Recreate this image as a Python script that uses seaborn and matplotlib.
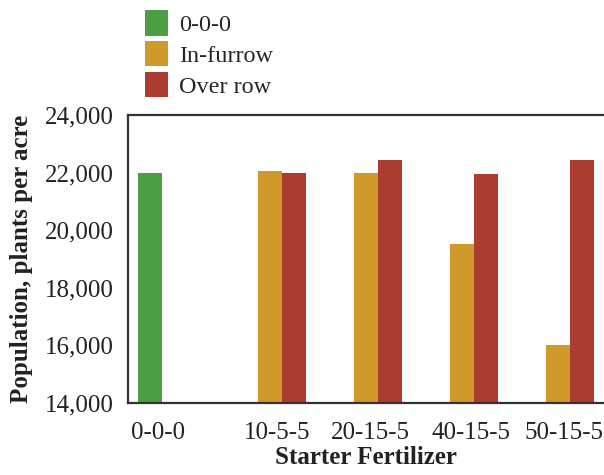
import numpy as np
import pandas as pd
import seaborn as sns
import matplotlib
matplotlib.use("Agg")
import matplotlib.pyplot as plt
from matplotlib.patches import Patch

# Daten
fertilizers = ["0-0-0", "10-5-5", "20-15-5", "40-15-5", "50-15-5"]
treatments = ["0-0-0", "In-furrow", "Over row"]
check_pop = [22000]
infurrow_pop = [22050, 22000, 19500, 16000]
overrow_pop = [22000, 22450, 21950, 22450]
colors = ["#4C9E45", "#CF9A2B", "#AA3C32"]

df = pd.DataFrame({
    "fert": [fertilizers[0]] + fertilizers[1:] + fertilizers[1:],
    "treat": ["0-0-0"] * len(check_pop) + ["In-furrow"] * 4 + ["Over row"] * 4,
    "pop": check_pop + infurrow_pop + overrow_pop,
})

sns.set_style("white")
plt.rcParams["font.family"] = ["Liberation Serif", "DejaVu Serif"]

fig = plt.figure(figsize=(6.04, 4.75), dpi=100)
ax = fig.add_axes([0.212, 0.152, 0.788, 0.606])

sns.barplot(data=df, x="fert", y="pop", hue="treat", order=fertilizers,
            hue_order=treatments, palette=colors, width=0.75, saturation=1,
            linewidth=0, ax=ax, legend=False)

ax.set_ylim(14000, 24000)
ax.set_xlim(-0.48, 4.48)
ax.set_yticks(np.arange(14000, 24001, 2000))
ax.yaxis.set_major_formatter(matplotlib.ticker.StrMethodFormatter("{x:,.0f}"))

# Beschriftungen leicht verschoben wie im Original
label_shift = [-0.17, 0.07, 0.05, 0.09, 0.06]
ax.set_xticks(np.arange(len(fertilizers)) + np.array(label_shift))
ax.set_xticklabels(fertilizers)

ax.tick_params(axis="both", length=0, labelsize=18, colors="#222222", pad=10)
ax.tick_params(axis="x", pad=14)

for s in ["left", "top", "bottom"]:
    ax.spines[s].set_color("#333333")
    ax.spines[s].set_linewidth(1.6)
ax.spines["right"].set_visible(False)

ax.set_xlabel("Starter Fertilizer", fontsize=18, fontweight="bold", color="#222222", labelpad=1)
ax.set_ylabel("Population, plants per acre", fontsize=18, fontweight="bold", color="#222222", labelpad=9)

handles = [Patch(facecolor=c, edgecolor="none") for c in colors]
fig.legend(handles, treatments, loc="upper left", bbox_to_anchor=(0.212, 1.015),
           frameon=False, fontsize=17.5, handlelength=0.95, handleheight=1.25,
           handletextpad=0.45, labelspacing=0.2, borderpad=0.2)

fig.savefig("out.png", dpi=100)
